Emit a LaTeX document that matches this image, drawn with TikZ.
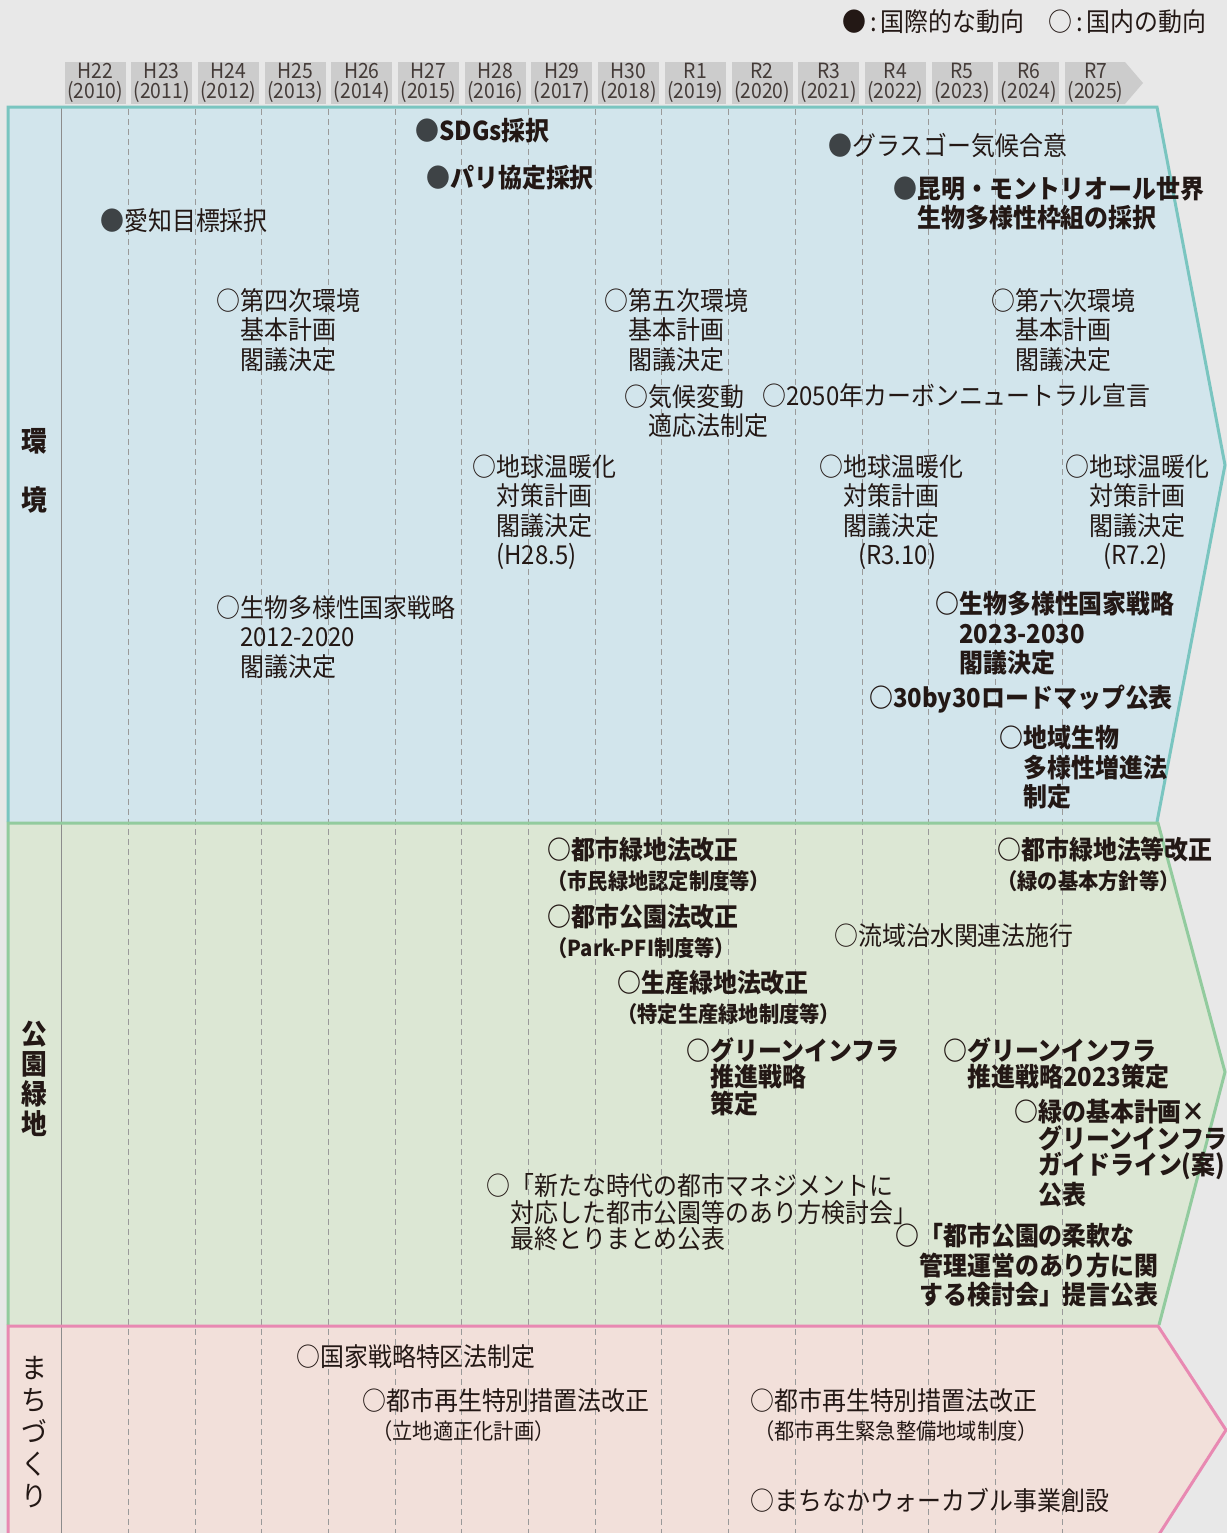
\documentclass[tikz,border=0pt]{standalone}
\usepackage{fontspec}
\setmainfont{Noto Sans CJK JP}[FakeStretch=0.92]

\definecolor{bggray}{HTML}{E8E8E8}
\definecolor{envfill}{HTML}{D2E5EC}
\definecolor{envline}{HTML}{7AC5C0}
\definecolor{parkfill}{HTML}{DCE7D4}
\definecolor{parkline}{HTML}{92CB9E}
\definecolor{townfill}{HTML}{F2E0DA}
\definecolor{townline}{HTML}{E889B2}
\definecolor{yearfill}{HTML}{CCCCCC}
\definecolor{ink}{HTML}{231815}
\definecolor{dotgray}{HTML}{3E4346}
\definecolor{gridgray}{HTML}{9A9A9A}

\newcommand{\evfont}{\fontsize{13}{14.75}\selectfont}
\newcommand{\evtfont}{\fontsize{13}{13.3}\selectfont}
\newcommand{\subfont}{\fontsize{11}{13}\selectfont}
\newcommand{\yrfont}{\fontsize{10.5}{9.7}\selectfont}
\newcommand{\ind}{\hspace*{12pt}}
\newcommand{\intl}{\textcolor{dotgray}{●}}

\tikzset{
  ev/.style={anchor=north west, inner sep=0pt, align=left, text=ink, font=\evfont},
  evb/.style={ev, font=\evfont\bfseries},
  evt/.style={ev, font=\evtfont},
  evbt/.style={ev, font=\evtfont\bfseries},
  yearbox/.style={fill=yearfill, minimum width=30.5pt, minimum height=21pt, inner sep=0pt, align=center, text=ink!85, font=\yrfont},
  yearline/.style={gridgray, line width=0.5pt, dash pattern=on 3pt off 2pt},
  sidelbl/.style={inner sep=0pt, align=center, text=ink, font=\fontsize{14}{15}\selectfont\bfseries},
}

\begin{document}
\begin{tikzpicture}[x=0.5pt, y=-0.5pt]
        \useasboundingbox (0,0) rectangle (1227,1533);
        \fill[bggray] (0,0) rectangle (1227,1533);

        % Panels
        \fill[envfill] (8,107) -- (1157,107) -- (1225,465) -- (1157,822) -- (8,822) -- cycle;
        \fill[parkfill] (8,823) -- (1158,823) -- (1225,1072) -- (1159,1325) -- (8,1325) -- cycle;
        \fill[townfill] (8,1326) -- (1158,1326) -- (1226,1430) -- (1158,1536) -- (8,1536) -- cycle;

        % Year lines
        \draw[yearline] (128.3,109) -- (128.3,1533);
        \draw[yearline] (195,109) -- (195,1533);
        \draw[yearline] (261.7,109) -- (261.7,1533);
        \draw[yearline] (328.4,109) -- (328.4,1533);
        \draw[yearline] (395.1,109) -- (395.1,1533);
        \draw[yearline] (461.8,109) -- (461.8,1533);
        \draw[yearline] (528.5,109) -- (528.5,1533);
        \draw[yearline] (595.2,109) -- (595.2,1533);
        \draw[yearline] (661.9,109) -- (661.9,1533);
        \draw[yearline] (728.6,109) -- (728.6,1533);
        \draw[yearline] (795.3,109) -- (795.3,1533);
        \draw[yearline] (862,109) -- (862,1533);
        \draw[yearline] (928.7,109) -- (928.7,1533);
        \draw[yearline] (995.4,109) -- (995.4,1533);
        \draw[yearline] (1062.1,109) -- (1062.1,1533);
        \draw[black!45, line width=0.5pt] (61.5,107) -- (61.5,1533);

        % Panel borders
        \draw[envline, line width=1.5pt] (8,822) -- (8,107) -- (1157,107) -- (1225,465) -- (1157,822);
        \draw[parkline, line width=1.5pt] (8,1325) -- (8,823) -- (1158,823) -- (1225,1072) -- (1159,1325);
        \draw[townline, line width=1.5pt] (8,1536) -- (8,1326) -- (1158,1326) -- (1226,1430) -- (1158,1536);

        % Year header
        \node (h22) [yearbox] at (95,83) {H22\\(2010)};
        \node (h23) [yearbox] at (161.7,83) {H23\\(2011)};
        \node (h24) [yearbox] at (228.4,83) {H24\\(2012)};
        \node (h25) [yearbox] at (295.1,83) {H25\\(2013)};
        \node (h26) [yearbox] at (361.8,83) {H26\\(2014)};
        \node (h27) [yearbox] at (428.5,83) {H27\\(2015)};
        \node (h28) [yearbox] at (495.2,83) {H28\\(2016)};
        \node (h29) [yearbox] at (561.9,83) {H29\\(2017)};
        \node (h30) [yearbox] at (628.6,83) {H30\\(2018)};
        \node (r1) [yearbox] at (695.3,83) {R1\\(2019)};
        \node (r2) [yearbox] at (762,83) {R2\\(2020)};
        \node (r3) [yearbox] at (828.7,83) {R3\\(2021)};
        \node (r4) [yearbox] at (895.4,83) {R4\\(2022)};
        \node (r5) [yearbox] at (962.1,83) {R5\\(2023)};
        \node (r6) [yearbox] at (1028.8,83) {R6\\(2024)};
        \fill[yearfill] (1065,62) -- (1125,62) -- (1143,83) -- (1125,104) -- (1065,104) -- cycle;
        \node (r7) [yearbox, fill=none] at (1095.5,83) {R7\\(2025)};

        % Legend
        \node (legend) [ev, font=\fontsize{13}{15}\selectfont] at (842,9) {●\kern2pt:\kern2pt国際的な動向　○\kern2pt:\kern2pt国内の動向};

        % Side labels
        \node (envA) [sidelbl] at (34,441) {環};
        \node (envB) [sidelbl] at (34,500) {境};
        \node (park) [sidelbl] at (34,1079) {公\\園\\緑\\地};
        \node (town) [sidelbl, font=\fontsize{14}{16}\selectfont] at (34,1432) {ま\\ち\\づ\\く\\り};

        % Environment
        \node (sdgs) [evb] at (415,118) {\intl SDGs採択};
        \node (paris) [evb] at (426,165) {\intl パリ協定採択};
        \node (aichi) [ev] at (100,208) {\intl 愛知目標採択};
        \node (glasgow) [ev] at (828,133) {\intl グラスゴー気候合意};
        \node (kunming) [evb] at (893,176) {\intl 昆明・モントリオール世界\\\ind 生物多様性枠組の採択};
        \node (plan4) [ev] at (216,288) {○第四次環境\\\ind 基本計画\\\ind 閣議決定};
        \node (plan5) [ev] at (604,288) {○第五次環境\\\ind 基本計画\\\ind 閣議決定};
        \node (plan6) [ev] at (991,288) {○第六次環境\\\ind 基本計画\\\ind 閣議決定};
        \node (adapt) [ev] at (624,384) {○気候変動\\\ind 適応法制定};
        \node (cn2050) [ev] at (762,383) {○2050年カーボンニュートラル宣言};
        \node (warmH28) [ev] at (472,454) {○地球温暖化\\\ind 対策計画\\\ind 閣議決定\\\ind (H28.5)};
        \node (warmR3) [ev] at (819,454) {○地球温暖化\\\ind 対策計画\\\ind 閣議決定\\\hspace*{19.5pt}(R3.10)};
        \node (warmR7) [ev] at (1065,454) {○地球温暖化\\\ind 対策計画\\\ind 閣議決定\\\hspace*{19pt}(R7.2)};
        \node (bio2012) [ev] at (216,595) {○生物多様性国家戦略\\\ind 2012-2020\\\ind 閣議決定};
        \node (bio2023) [evb] at (935,591) {○生物多様性国家戦略\\\ind 2023-2030\\\ind 閣議決定};
        \node (roadmap) [evb] at (869,685) {○30by30ロードマップ公表};
        \node (localbio) [evb] at (999,725) {○地域生物\\\ind 多様性増進法\\\ind 制定};

        % Parks and green space
        \node (green17) [evb] at (547,837) {○都市緑地法改正\\{\subfont （市民緑地認定制度等）}};
        \node (parkpfi) [evb] at (547,904) {○都市公園法改正\\{\subfont （Park-PFI制度等）}};
        \node (prodgreen) [evb] at (617,970) {○生産緑地法改正\\{\subfont （特定生産緑地制度等）}};
        \node (green24) [evb] at (997,837) {○都市緑地法等改正\\{\subfont （緑の基本方針等）}};
        \node (flood) [ev] at (834,923) {○流域治水関連法施行};
        \node (gi19) [evbt] at (686,1037) {○グリーンインフラ\\\ind 推進戦略\\\ind 策定};
        \node (gi23) [evbt] at (943,1037) {○グリーンインフラ\\\ind 推進戦略2023策定};
        \node (giguide) [evbt] at (1014,1099) {○緑の基本計画×\\\ind グリーンインフラ\\\ind ガイドライン(案)\\\ind 公表};
        \node (newera) [evt] at (486,1173) {○「新たな時代の都市マネジメントに\\\ind 対応した都市公園等のあり方検討会」\\\ind 最終とりまとめ公表};
        \node (flexmgmt) [evb] at (895,1223) {○「都市公園の柔軟な\\\ind 管理運営のあり方に関\\\ind する検討会」提言公表};

        % Town planning
        \node (zone) [ev] at (296,1344) {○国家戦略特区法制定};
        \node (renew26) [ev] at (362,1388) {○都市再生特別措置法改正\\{\subfont \hspace*{5pt}（立地適正化計画）}};
        \node (renew32) [ev] at (750,1388) {○都市再生特別措置法改正\\{\subfont \hspace*{2pt}（都市再生緊急整備地域制度）}};
        \node (walk) [ev] at (750,1488) {○まちなかウォーカブル事業創設};

    \end{tikzpicture}
\end{document}
